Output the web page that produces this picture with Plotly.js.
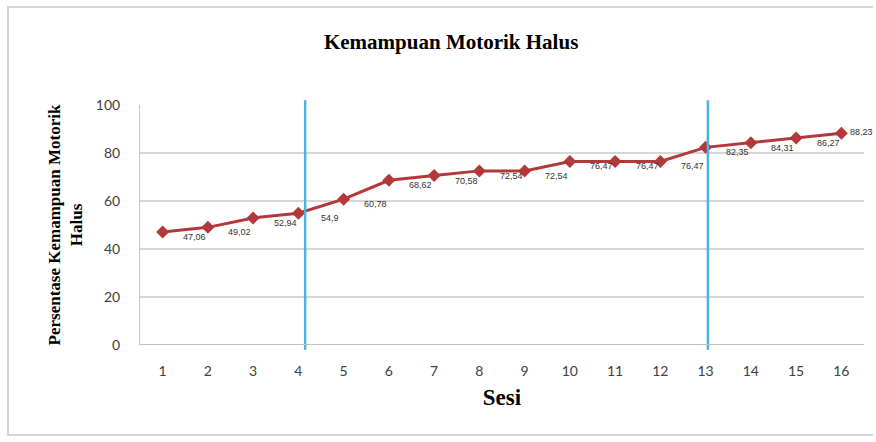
<!DOCTYPE html>
<html>
<head>
<meta charset="utf-8">
<script src="https://cdn.plot.ly/plotly-3.0.1.min.js"></script>
<style>
html,body{margin:0;padding:0;background:#fff;}
#wrap{position:relative;width:876px;height:442px;}
#chart{width:876px;height:442px;}
#frame{position:absolute;left:7px;top:6px;width:866px;height:430px;border:2px solid #d4d4d4;border-right:none;box-sizing:border-box;pointer-events:none;}
</style>
</head>
<body>
<div id="wrap"><div id="chart"></div><div id="frame"></div></div>
<script>
const sesi = [1,2,3,4,5,6,7,8,9,10,11,12,13,14,15,16];
const persentase = [47.06,49.02,52.94,54.9,60.78,68.63,70.58,72.55,72.55,76.47,76.47,76.47,82.35,84.31,86.27,88.23];
const labelText = ["47,06","49,02","52,94","54,9","60,78","68,62","70,58","72,54","72,54","76,47","76,47","76,47","82,35","84,31","86,27","88,23"];
const phaseLines = [4.15, 13.05];
const yTicks = [0,20,40,60,80,100];

const trace = {
  x: sesi, y: persentase, type: 'scatter', mode: 'lines+markers',
  line: {color: '#b3383a', width: 3},
  marker: {symbol: 'diamond', size: 10, color: '#b3383a'},
  hoverinfo: 'skip'
};

const lastIdx = sesi.length - 1;
const annotations = sesi.map((s, i) => ({
  x: s, y: persentase[i], xref: 'x', yref: 'y', text: labelText[i],
  showarrow: false, xshift: i === lastIdx ? 20 : 32, yshift: i === lastIdx ? 1 : -5,
  font: {family: 'Liberation Sans, Arial', size: 9, color: '#333333'}
}));

const shapes = phaseLines.map(v => ({
  type: 'line', xref: 'x', yref: 'paper', x0: v, x1: v, y0: -0.02, y1: 1.02,
  line: {color: '#4fb3d9', width: 2.5}
}));

const layout = {
  width: 876, height: 442,
  margin: {l: 140, r: 12, t: 105, b: 97},
  paper_bgcolor: '#ffffff', plot_bgcolor: '#ffffff',
  showlegend: false,
  title: {text: '<b>Kemampuan Motorik Halus</b>', x: 0.515, xanchor: 'center', y: 0.905, yanchor: 'middle',
    font: {family: 'Liberation Serif, Times New Roman, serif', size: 21, color: '#000'}},
  xaxis: {
    range: [0.5, 16.5], tickmode: 'array', tickvals: sesi, ticktext: sesi.map(String),
    showgrid: false, zeroline: false, showline: false, ticks: '',
    ticklabelstandoff: 16,
    tickfont: {family: 'Lato, Liberation Sans, sans-serif', size: 14, color: '#404040'},
    title: {text: '<b>Sesi</b>', standoff: 10, font: {family: 'Liberation Serif, Times New Roman, serif', size: 23, color: '#000'}}
  },
  yaxis: {
    range: [0, 100], tickmode: 'array', tickvals: yTicks,
    showgrid: true, gridcolor: '#d6d6d6', gridwidth: 2,
    zeroline: false, showline: true, linecolor: '#c8c8c8', linewidth: 1, ticks: '',
    ticklabelstandoff: 16,
    tickfont: {family: 'Lato, Liberation Sans, sans-serif', size: 14, color: '#404040'},
    title: {text: '<b>Persentase Kemampuan Motorik<br>Halus</b>', standoff: 8,
      font: {family: 'Liberation Serif, Times New Roman, serif', size: 17, color: '#000'}}
  },
  shapes: shapes.concat([{type:'line', xref:'paper', yref:'y', x0:0, x1:1, y0:0, y1:0, line:{color:'#c0c0c0', width:2}}]),
  annotations: annotations
};

Plotly.newPlot('chart', [trace], layout, {staticPlot: true, displayModeBar: false});
</script>
</body>
</html>
